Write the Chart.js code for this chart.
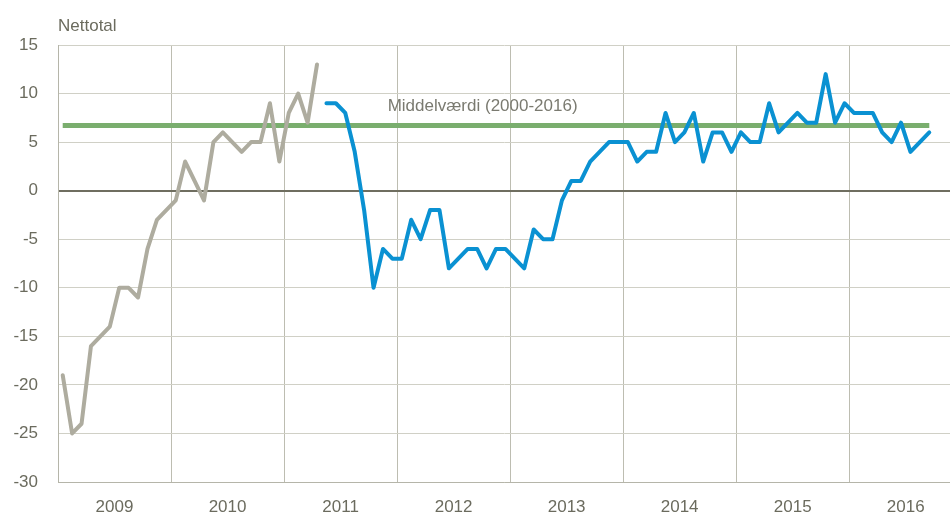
<!DOCTYPE html>
<html>
<head>
<meta charset="utf-8">
<script src="https://cdn.jsdelivr.net/npm/chart.js@4.4.1/dist/chart.umd.min.js"></script>
<style>
  html, body { margin: 0; padding: 0; background: #ffffff; }
  #wrap { width: 950px; height: 516px; }
</style>
</head>
<body>
<div id="wrap"><canvas id="nettoChart"></canvas></div>
<script>
// Nettotal, monthly. Month index 0 = Jan 2009.
const yearLabels = ['2009', '2010', '2011', '2012', '2013', '2014', '2015', '2016'];

// old series (grey), Jan 2009 - Apr 2011
const oldSeries = [
  -19, -25, -24, -16, -15, -14, -10, -10, -11, -6, -3, -2,
  -1, 3, 1, -1, 5, 6, 5, 4, 5, 5, 9, 3,
  8, 10, 7, 13
];

// new series (blue), May 2011 - Sep 2016
const newStart = 28;
const newSeries = [
  9, 9, 8, 4, -2, -10, -6, -7,
  -7, -3, -5, -2, -2, -8, -7, -6, -6, -8, -6, -6,
  -7, -8, -4, -5, -5, -1, 1, 1, 3, 4, 5, 5,
  5, 3, 4, 4, 8, 5, 6, 8, 3, 6, 6, 4,
  6, 5, 5, 9, 6, 7, 8, 7, 7, 12, 7, 9,
  8, 8, 8, 6, 5, 7, 4, 5, 6
];

// average 2000-2016, drawn over the whole period
const meanValue = 6.7;
const meanLabel = 'Middelværdi (2000-2016)';
const yTitle = 'Nettotal';
const yMin = -30, yMax = 15, yStep = 5;

// no narrow font installed, so a slightly smaller regular one keeps the widths
const FONT = "'Liberation Sans', Arial, sans-serif";
const FONT_SIZE = 17;
const textColor = '#6b6b5e';
const lastMonth = newStart + newSeries.length - 1;

// points sit in the middle of each month
const toPoints = (arr, start) => arr.map((v, i) => ({ x: start + i + 0.5, y: v }));

// year boundaries get a grid line, mid-year gets the label
const xTickValues = [];
yearLabels.forEach((y, i) => { xTickValues.push(i * 12, i * 12 + 6); });

Chart.defaults.font.family = FONT;
Chart.defaults.font.size = FONT_SIZE;
Chart.defaults.color = textColor;

const textPlugin = {
  id: 'texts',
  afterDraw(chart) {
    const { ctx, chartArea, scales } = chart;
    ctx.save();
    ctx.font = FONT_SIZE + 'px ' + FONT;
    ctx.textBaseline = 'middle';
    ctx.textAlign = 'left';
    ctx.fillStyle = textColor;
    ctx.fillText(yTitle, chartArea.left, 26);
    ctx.fillStyle = '#7a7a70';
    ctx.fillText(meanLabel, scales.x.getPixelForValue(35), scales.y.getPixelForValue(8.7));
    ctx.restore();
  }
};

const ctx = document.getElementById('nettoChart').getContext('2d');

new Chart(ctx, {
  type: 'line',
  data: {
    datasets: [
      {
        label: 'Middelværdi',
        data: [{ x: 0.5, y: meanValue }, { x: lastMonth + 0.5, y: meanValue }],
        borderColor: '#7aae6e',
        borderWidth: 5,
        pointRadius: 0,
        order: 3
      },
      {
        label: 'Gammel',
        data: toPoints(oldSeries, 0),
        borderColor: '#aeac9f',
        borderWidth: 4,
        pointRadius: 0,
        borderJoinStyle: 'round',
        borderCapStyle: 'round',
        order: 2
      },
      {
        label: 'Ny',
        data: toPoints(newSeries, newStart),
        borderColor: '#0a91d2',
        borderWidth: 4,
        pointRadius: 0,
        borderJoinStyle: 'round',
        borderCapStyle: 'round',
        order: 1
      }
    ]
  },
  options: {
    responsive: true,
    maintainAspectRatio: false,
    animation: false,
    layout: { padding: { top: 45, left: 13, right: 0, bottom: 0 } },
    plugins: {
      legend: { display: false },
      tooltip: { enabled: false }
    },
    scales: {
      x: {
        type: 'linear',
        min: 0,
        max: 94.7,
        afterBuildTicks: (scale) => { scale.ticks = xTickValues.map(v => ({ value: v })); },
        afterFit: (scale) => { scale.height = 34; },
        grid: {
          color: (c) => (c.tick && c.tick.value % 12 === 0) ? '#bdbdb1' : 'rgba(0,0,0,0)',
          drawTicks: false
        },
        border: { display: true, color: '#b5b5a9' },
        ticks: {
          autoSkip: false,
          maxRotation: 0,
          padding: 15,
          color: textColor,
          callback: (v) => v % 12 === 6 ? yearLabels[(v - 6) / 12] : ''
        }
      },
      y: {
        min: yMin,
        max: yMax,
        afterFit: (scale) => { scale.width = 45; },
        grid: {
          color: (c) => c.tick.value === 0 ? '#6f6e60' : '#d0d0c6',
          lineWidth: (c) => c.tick.value === 0 ? 2 : 1,
          drawTicks: false
        },
        border: { display: true, color: '#b5b5a9' },
        ticks: { stepSize: yStep, padding: 20, color: textColor }
      }
    }
  },
  plugins: [textPlugin]
});
</script>
</body>
</html>
